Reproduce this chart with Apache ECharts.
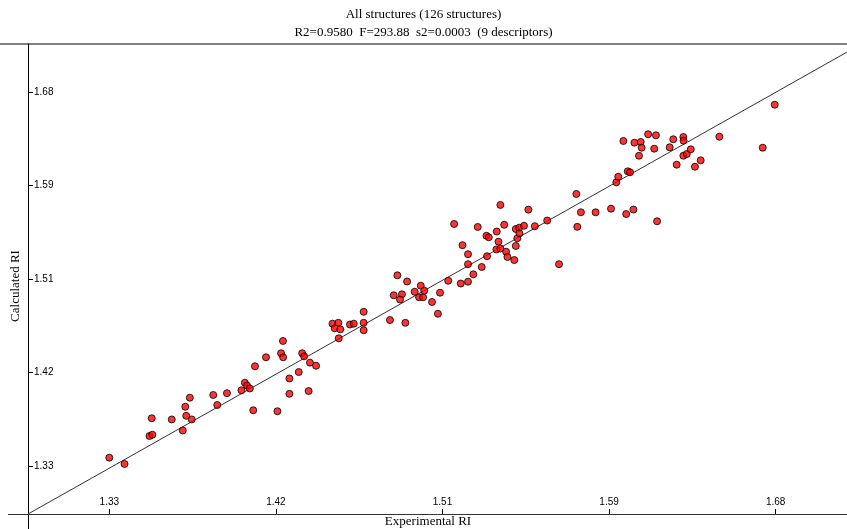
<!DOCTYPE html>
<html>
<head>
<meta charset="utf-8">
<script src="https://cdn.jsdelivr.net/npm/echarts@6/dist/echarts.min.js"></script>
<style>
  html, body { margin: 0; padding: 0; background: #ffffff; }
  #chart { width: 847px; height: 529px; }
</style>
</head>
<body>
<div id="chart"></div>
<script>
// experimental RI vs calculated RI
const experimental = [
  1.3300, 1.3380, 1.3523, 1.3511, 1.3526, 1.3628, 1.3686, 1.3699, 1.3723, 1.3704,
  1.3733, 1.3846, 1.3867, 1.3918, 1.3994, 1.4012, 1.4023, 1.4038, 1.4056, 1.4065,
  1.4123, 1.4183, 1.4202, 1.4213, 1.4212, 1.4246, 1.4246, 1.4295, 1.4313, 1.4323,
  1.4354, 1.4386, 1.4347, 1.4472, 1.4503, 1.4484, 1.4513, 1.4505, 1.4564, 1.4584,
  1.4636, 1.4636, 1.4636, 1.4774, 1.4855, 1.4794, 1.4813, 1.4837, 1.4827, 1.4864,
  1.4904, 1.4927, 1.4936, 1.4948, 1.4954, 1.4995, 1.5026, 1.5037, 1.5080, 1.5146,
  1.5184, 1.5212, 1.5256, 1.5184, 1.5184, 1.5155, 1.5111, 1.5235, 1.5284, 1.5281,
  1.5293, 1.5335, 1.5354, 1.5344, 1.5333, 1.5354, 1.5374, 1.5384, 1.5391, 1.5427,
  1.5435, 1.5443, 1.5435, 1.5453, 1.5454, 1.5478, 1.5501, 1.5535, 1.5600, 1.5662,
  1.5753, 1.5777, 1.5758, 1.5854, 1.5935, 1.6015, 1.6053, 1.6177, 1.5963, 1.5973,
  1.6023, 1.6035, 1.6082, 1.6000, 1.6058, 1.6091, 1.6096, 1.6130, 1.6171, 1.6162,
  1.6243, 1.6262, 1.6315, 1.6316, 1.6315, 1.6333, 1.6354, 1.6280, 1.6376, 1.6406,
  1.6504, 1.6732, 1.6795
]
const calculated = [
  1.3378, 1.3319, 1.3747, 1.3581, 1.3593, 1.3736, 1.3633, 1.3855, 1.3940, 1.3770,
  1.3736, 1.3965, 1.3871, 1.3982, 1.4009, 1.4080, 1.4054, 1.4026, 1.3822, 1.4234,
  1.4318, 1.3813, 1.4356, 1.4318, 1.4471, 1.4120, 1.3976, 1.4180, 1.4356, 1.4327,
  1.4268, 1.4239, 1.4002, 1.4633, 1.4641, 1.4590, 1.4580, 1.4496, 1.4625, 1.4633,
  1.4744, 1.4641, 1.4572, 1.4667, 1.4641, 1.4899, 1.5086, 1.4908, 1.4859, 1.5028,
  1.4932, 1.4880, 1.4989, 1.4880, 1.4942, 1.4836, 1.4726, 1.4923, 1.5035, 1.5009,
  1.5026, 1.5095, 1.5164, 1.5190, 1.5284, 1.5368, 1.5567, 1.5539, 1.5265, 1.5456,
  1.5442, 1.5496, 1.5745, 1.5401, 1.5328, 1.5337, 1.5559, 1.5307, 1.5258, 1.5229,
  1.5361, 1.5433, 1.5520, 1.5532, 1.5479, 1.5550, 1.5701, 1.5546, 1.5599, 1.5190,
  1.5848, 1.5676, 1.5540, 1.5676, 1.5710, 1.5660, 1.5702, 1.5592, 1.5957, 1.6009,
  1.6060, 1.6051, 1.6206, 1.6344, 1.6328, 1.6335, 1.6281, 1.6407, 1.6397, 1.6272,
  1.6285, 1.6360, 1.6381, 1.6347, 1.6206, 1.6222, 1.6266, 1.6122, 1.6103, 1.6163,
  1.6384, 1.6281, 1.6684
]

// reference line (ends at the axis corners)
const fitLineX = [1.2873, 1.7174]
const fitLineY = [1.2850, 1.7176]

// evenly spaced ticks, printed with two decimals
const tickValues = [1.33, 1.4175, 1.505, 1.5925, 1.68]
const tickLabels = ['1.33', '1.42', '1.51', '1.59', '1.68']

const titleLines = ['All structures (126 structures)', 'R2=0.9580  F=293.88  s2=0.0003  (9 descriptors)']

function tickText(v) {
  for (let i = 0; i < tickValues.length; i++) {
    if (Math.abs(tickValues[i] - v) < 1e-6) return tickLabels[i]
  }
  return ''
}

const axisFont = {
  fontFamily: '"Liberation Sans", Arial, sans-serif',
  fontSize: 10,
  color: '#000000',
}
const serif = '13px "Liberation Serif", "Times New Roman", serif'

const chart = echarts.init(document.getElementById('chart'), null, { renderer: 'canvas' })

chart.setOption({
  backgroundColor: '#ffffff',
  animation: false,
  title: {
    text: titleLines.join('\n'),
    left: 'center',
    top: 1,
    textStyle: {
      fontFamily: '"Liberation Serif", "Times New Roman", serif',
      fontSize: 13,
      fontWeight: 'normal',
      color: '#000000',
      lineHeight: 18,
    },
  },
  grid: {
    left: 28,
    right: 0,
    top: 44,
    bottom: 15,
    outerBoundsMode: 'none',
  },
  xAxis: {
    type: 'value',
    min: 1.2873,
    max: 1.71745,
    axisLine: { show: true, lineStyle: { color: '#333333', width: 1 } },
    axisTick: {
      show: true,
      inside: true,
      length: 5,
      customValues: tickValues,
      lineStyle: { color: '#000000' },
    },
    axisLabel: {
      show: true,
      inside: true,
      margin: 7,
      customValues: tickValues,
      formatter: tickText,
      ...axisFont,
    },
    splitLine: { show: false },
  },
  yAxis: {
    type: 'value',
    min: 1.28504,
    max: 1.72524,
    axisLine: { show: true, lineStyle: { color: '#000000', width: 1 } },
    axisTick: {
      show: true,
      inside: true,
      length: 5,
      customValues: tickValues,
      lineStyle: { color: '#000000' },
    },
    axisLabel: {
      show: true,
      inside: true,
      margin: 6,
      customValues: tickValues,
      formatter: tickText,
      ...axisFont,
    },
    splitLine: { show: false },
  },
  graphic: [
    { type: 'line', shape: { x1: 0, y1: 44, x2: 847, y2: 44 }, style: { stroke: '#808080', lineWidth: 2 }, silent: true },
    { type: 'line', shape: { x1: 8, y1: 514.5, x2: 28, y2: 514.5 }, style: { stroke: '#333333', lineWidth: 1 }, silent: true },
    { type: 'line', shape: { x1: 28.5, y1: 514, x2: 28.5, y2: 529 }, style: { stroke: '#000000', lineWidth: 1 }, silent: true },
    {
      type: 'text',
      x: 428,
      y: 522,
      style: {
        text: 'Experimental RI',
        font: serif,
        fill: '#000000',
        align: 'center',
        verticalAlign: 'middle',
      },
      silent: true,
    },
    {
      type: 'text',
      x: 16,
      y: 286,
      rotation: Math.PI / 2,
      style: {
        text: 'Calculated RI',
        font: serif,
        fill: '#000000',
        align: 'center',
        verticalAlign: 'middle',
      },
      silent: true,
    },
  ],
  series: [
    {
      type: 'line',
      data: fitLineX.map((x, i) => [x, fitLineY[i]]),
      symbol: 'none',
      lineStyle: { color: '#333333', width: 1 },
      z: 1,
    },
    {
      type: 'scatter',
      data: experimental.map((x, i) => [x, calculated[i]]),
      symbol: 'circle',
      symbolSize: 7,
      itemStyle: { color: '#ff0000', borderColor: '#000000', borderWidth: 1 },
      z: 2,
    },
  ],
})
</script>
</body>
</html>
